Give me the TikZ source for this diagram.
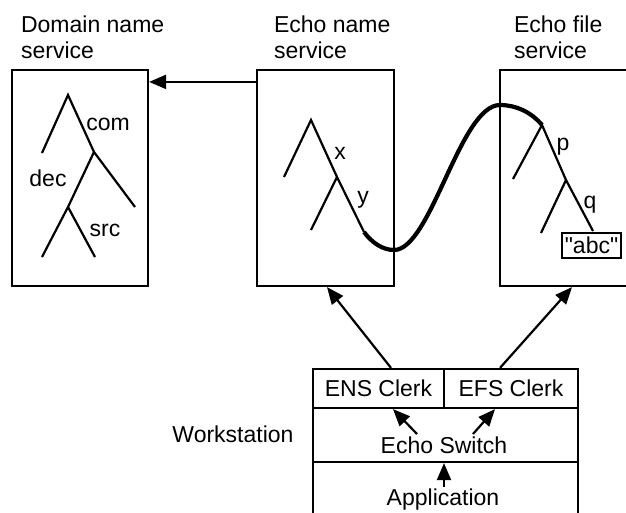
\documentclass[tikz,border=0pt]{standalone}
\usepackage{fontspec}
\newfontfamily\lsans{Liberation Sans}
\usetikzlibrary{arrows.meta,calc}
\begin{document}
\begin{tikzpicture}[x=1pt,y=-1pt,line width=2.2pt,
  lbl/.style={font=\lsans\fontsize{23}{26}\selectfont, inner sep=0pt},
  box/.style={draw, line width=2.2pt, inner sep=0pt},
  cell/.style={box, font=\lsans\fontsize{23}{26}\selectfont},
  arr/.style={-{Triangle[length=17pt,width=14pt]}, line width=2.2pt},
  wire/.style={line width=4.2pt},
  branch/.style={line width=2.2pt}]
\clip (0,0) rectangle (626,512);

% the three name/file services
\node[box, minimum width=136pt, minimum height=216pt] (dns) at (80,178) {};
\node[box, minimum width=137pt, minimum height=216pt] (ens) at (325.5,178) {};
\node[box, minimum width=140pt, minimum height=216pt] (efs) at (570,178) {};

\node[lbl, align=left, anchor=north west] (dnstitle) at (20,14.5) {Domain name\\service};
\node[lbl, align=left, anchor=north west] (enstitle) at (273,14.5) {Echo name\\service};
\node[lbl, align=left, anchor=north west] (efstitle) at (513,14.5) {Echo file\\service};

\draw[arr] ($(ens.north west)+(0,13)$) -- ($(dns.north east)+(0,13)$);

% domain name tree
\coordinate (d0) at (68,95);
\coordinate (d1) at (94,152);
\coordinate (d2) at (68,207);
\draw[branch] (42,153) -- (d0) -- (d1) -- (135,207);
\draw[branch] (d1) -- (d2) -- (42,257);
\draw[branch] (d2) -- (95,257);
\node[lbl] (com) at (108,124) {com};
\node[lbl] (dec) at (48,178) {dec};
\node[lbl] (src) at (105,230) {src};

% echo name tree
\coordinate (e0) at (311,120);
\coordinate (e1) at (337,177);
\coordinate (eend) at (364,232);
\draw[branch] (284,177) -- (e0) -- (e1) -- (eend);
\draw[branch] (e1) -- (311,230);
\node[lbl] (x) at (340,153) {x};
\node[lbl] (y) at (363,200) {y};

% echo file tree
\coordinate (f0) at (542,125);
\coordinate (f1) at (566,180);
\draw[branch] (513,179) -- (f0) -- (f1) -- (593,231);
\draw[branch] (f1) -- (541,233);
\node[lbl] (p) at (563,147) {p};
\node[lbl] (q) at (590,205) {q};
\node[box, font=\lsans\fontsize{23}{26}\selectfont, minimum width=59pt, minimum height=25pt] (abc) at (591.5,245.5) {"abc"};

% junction from the name tree into the file tree
\draw[wire] (eend) .. controls (372,243) and (383,250) .. (394,250)
  .. controls (431,250) and (460,105) .. (500,105)
  .. controls (516,105) and (531,112) .. (f0);

% workstation stack
\node[cell, minimum width=131pt, minimum height=39pt] (ensclerk) at (378.5,388.5) {ENS Clerk};
\node[cell, minimum width=134pt, minimum height=39pt] (efsclerk) at (511,388.5) {EFS Clerk};
\node[box, minimum width=265pt, minimum height=54pt] (switch) at (445.5,435) {};
\node[box, minimum width=265pt, minimum height=78pt] (app) at (445.5,501) {};
\node[lbl, anchor=base] (switchtext) at (444,453) {Echo Switch};
\node[lbl, anchor=base] (apptext) at (443,505) {Application};
\node[lbl, anchor=base] (ws) at (233,442) {Workstation};

\draw[arr] ($(ensclerk.north)+(12.5,0)$) -- ($(ens.south)+(1.5,0)$);
\draw[arr] ($(efsclerk.north)+(-11,0)$) -- ($(efs.south)+(2,0)$);
\draw[arr] ($(switch.center)+(-28.5,-1)$) -- ($(ensclerk.south)+(14.5,0)$);
\draw[arr] ($(switch.center)+(27.5,-1)$) -- ($(efsclerk.south)+(-16,0)$);
\draw[arr] ($(app.north)+(-1.5,26)$) -- ($(switch.south)+(-1.5,0)$);
\end{tikzpicture}
\end{document}
